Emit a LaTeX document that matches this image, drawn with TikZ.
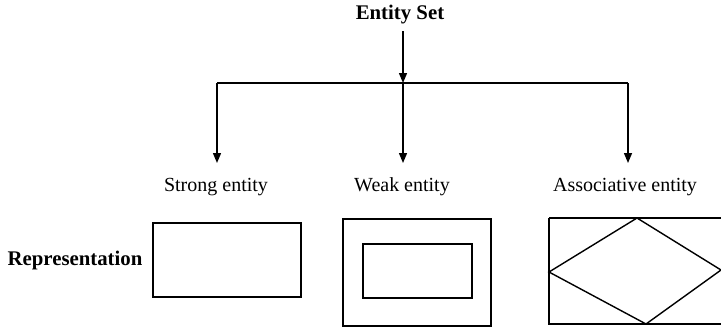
\documentclass[tikz,border=0pt]{standalone}
\usepackage{fontspec}
\setmainfont{Liberation Serif}
\usetikzlibrary{arrows.meta}
\begin{document}
\begin{tikzpicture}[x=0.5pt,y=-0.5pt,
  line width=0.7pt,
  label/.style={inner sep=0pt, font=\fontsize{10}{12}\selectfont},
  boldlabel/.style={label, font=\fontsize{10.4}{12}\selectfont\bfseries},
  arrowline/.style={-{Triangle[width=4pt,length=5pt]}},
  box/.style={draw, inner sep=0pt}]
\useasboundingbox (0,0) rectangle (721,327);

% root and the three kinds of entity
\node[boldlabel] (es) at (400,15) {Entity Set};
\node[label] (strong) at (216,187) {Strong entity};
\node[label] (weak) at (402,187) {Weak entity};
\node[label] (assoc) at (625,187) {Associative entity};
\node[boldlabel] (rep) at (75,260) {Representation};

% branching connector
\coordinate (hub) at (403,83);
\coordinate (hl) at (217,83);
\coordinate (hr) at (628,83);
\coordinate (sa) at (217,163);
\coordinate (wa) at (403,163);
\coordinate (aa) at (628,163);
\draw[arrowline, shorten <=3pt] (es.south -| hub) -- (hub);
\draw (hl) -- (hr);
\draw[arrowline] (hl) -- (sa);
\draw[arrowline] (hub) -- (wa);
\draw[arrowline] (hr) -- (aa);

% strong entity: plain rectangle
\node[box, minimum width=74pt, minimum height=37pt] (srect) at (227,260) {};

% weak entity: double rectangle
\node[box, minimum width=74pt, minimum height=53.5pt] (wout) at (417,272.5) {};
\node[box, minimum width=54.5pt, minimum height=27pt] (win) at (417.5,271) {};

% associative entity: rectangle with diamond, running past the right edge
\draw (549,218) -- (740,218) (549,218) -- (549,324) -- (740,324);
\draw (637,218) -- (721,270) -- (646,324) -- (549,272) -- cycle;
\end{tikzpicture}
\end{document}
